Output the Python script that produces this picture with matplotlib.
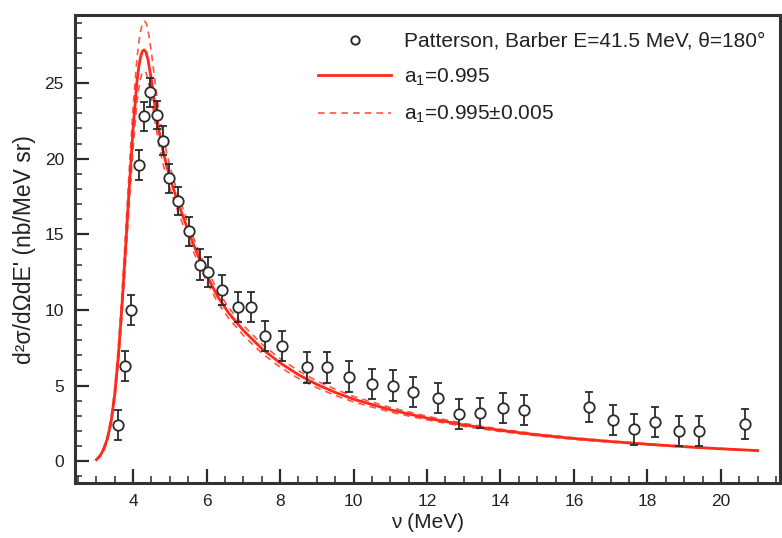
import matplotlib
matplotlib.use("Agg")
import matplotlib.pyplot as plt
from matplotlib.lines import Line2D
from matplotlib.ticker import MultipleLocator

plt.rcParams['font.family'] = ['Liberation Sans', 'DejaVu Sans']

# Patterson, Barber data
nu_data = [3.59, 3.78, 3.94, 4.17, 4.29, 4.45, 4.65, 4.80, 4.98, 5.21, 5.52, 5.82,
           6.04, 6.42, 6.86, 7.22, 7.58, 8.06, 8.73, 9.27, 9.87, 10.5, 11.07, 11.63,
           12.31, 12.87, 13.43, 14.08, 14.65, 16.42, 17.05, 17.64, 18.22, 18.85, 19.40, 20.65]
xs_data = [2.4, 6.3, 10.0, 19.6, 22.8, 24.4, 22.9, 21.2, 18.7, 17.2, 15.2, 13.0,
           12.5, 11.3, 10.2, 10.2, 8.3, 7.6, 6.2, 6.2, 5.6, 5.1, 5.0, 4.6,
           4.2, 3.1, 3.2, 3.5, 3.4, 3.6, 2.7, 2.1, 2.6, 2.0, 2.0, 2.45]
xs_err = [1.0, 1.0, 1.0, 1.0, 0.95, 0.95, 0.95, 0.95, 0.95, 0.95, 0.95, 1.0,
          1.0, 1.0, 1.0, 1.0, 1.0, 1.0, 1.0, 1.0, 1.0, 1.0, 1.0, 1.0,
          1.0, 1.0, 1.0, 1.0, 1.0, 1.0, 1.0, 1.0, 1.0, 1.0, 1.0, 1.0]

# model curves
nu_curve = [3.0, 3.1, 3.2, 3.3, 3.4, 3.5, 3.6, 3.7, 3.8, 3.9, 4.0, 4.1, 4.15, 4.2, 4.25,
            4.3, 4.35, 4.4, 4.5, 4.6, 4.7, 4.8, 4.9, 5.0, 5.2, 5.4, 5.6, 5.8, 6.0, 6.3,
            6.6, 7.0, 7.5, 8.0, 8.5, 9.0, 9.5, 10, 11, 12, 13, 14, 15, 16, 17, 18,
            19, 20, 21]
a1_central = [0.1, 0.35, 0.8, 1.5, 2.6, 4.4, 7.0, 10.4, 14.3, 18.3, 22.0, 25.0, 26.0, 26.7, 27.1,
              27.2, 27.05, 26.6, 25.2, 23.4, 21.9, 20.7, 19.65, 18.75, 17.25, 15.9, 14.6, 13.4, 12.3, 10.9,
              9.8, 8.65, 7.45, 6.5, 5.72, 5.08, 4.55, 4.1, 3.4, 2.85, 2.4, 2.04, 1.74, 1.5, 1.3, 1.12,
              0.96, 0.82, 0.7]
a1_upper = [0.12, 0.4, 0.9, 1.65, 2.85, 4.8, 7.6, 11.2, 15.3, 19.5, 23.4, 26.5, 27.6, 28.4, 28.9,
            29.1, 29.0, 28.6, 27.0, 25.0, 23.2, 21.75, 20.55, 19.5, 17.85, 16.4, 15.05, 13.8, 12.7, 11.3,
            10.15, 8.98, 7.75, 6.78, 5.98, 5.3, 4.76, 4.28, 3.55, 2.97, 2.5, 2.12, 1.8, 1.55, 1.34, 1.15,
            0.99, 0.84, 0.72]
a1_lower = [0.08, 0.3, 0.7, 1.35, 2.4, 4.1, 6.5, 9.7, 13.4, 17.2, 20.7, 23.6, 24.6, 25.3, 25.7,
            25.8, 25.7, 25.3, 24.0, 22.4, 21.0, 19.8, 18.85, 18.05, 16.65, 15.35, 14.1, 12.95, 11.9, 10.5,
            9.45, 8.32, 7.15, 6.22, 5.47, 4.86, 4.35, 3.92, 3.25, 2.73, 2.3, 1.96, 1.68, 1.45, 1.26, 1.09,
            0.93, 0.8, 0.68]

red = '#ff2a1a'
dark = '#2b2b2b'

fig = plt.figure(figsize=(7.82, 5.38), dpi=100)
ax = fig.add_axes([0.096, 0.102, 0.901, 0.870])

ax.plot(nu_curve, a1_upper, color=red, lw=1.2, ls=(0, (4, 3)), alpha=0.8)
ax.plot(nu_curve, a1_lower, color=red, lw=1.2, ls=(0, (4, 3)), alpha=0.8)
ax.plot(nu_curve, a1_central, color=red, lw=2.0)

ax.errorbar(nu_data, xs_data, yerr=xs_err, fmt='o', ms=7.5, mfc='white', mec=dark,
            mew=1.3, ecolor=dark, elinewidth=1.3, capsize=3, capthick=1.3, zorder=5)

ax.set_xlim(2.42, 21.6)
ax.set_ylim(-1.45, 29.5)
ax.xaxis.set_major_locator(MultipleLocator(2))
ax.xaxis.set_minor_locator(MultipleLocator(0.5))
ax.yaxis.set_major_locator(MultipleLocator(5))
ax.yaxis.set_minor_locator(MultipleLocator(1))
ax.tick_params(which='major', direction='in', length=10, width=1.6, color=dark,
               labelsize=12.5, labelcolor='#222222', pad=8)
ax.tick_params(which='minor', direction='in', length=5, width=1.1, color=dark)
for s in ax.spines.values():
    s.set_linewidth(2.2)
    s.set_color('#333333')

ax.set_xlabel('ν (MeV)', fontsize=15, color='#222222', labelpad=3)
ax.set_ylabel("d²σ/dΩdE' (nb/MeV sr)", fontsize=16.5, color='#222222', labelpad=6)

handles = [
    Line2D([], [], ls='none', marker='o', ms=6, mfc='white', mec=dark, mew=1.4),
    Line2D([], [], color=red, lw=2.0),
    Line2D([], [], color=red, lw=1.2, ls=(0, (4, 3)), alpha=0.8),
]
labels = ['Patterson, Barber E=41.5 MeV, θ=180°', 'a$_{\\mathregular{1}}$=0.995',
          'a$_{\\mathregular{1}}$=0.995±0.005']
ax.legend(handles, labels, loc='upper right', frameon=False, fontsize=15,
          handlelength=3.5, handletextpad=0.6, labelspacing=0.75, borderaxespad=0.3,
          bbox_to_anchor=(1.0, 0.995), labelcolor='#222222')

fig.savefig('out.png', dpi=100)
